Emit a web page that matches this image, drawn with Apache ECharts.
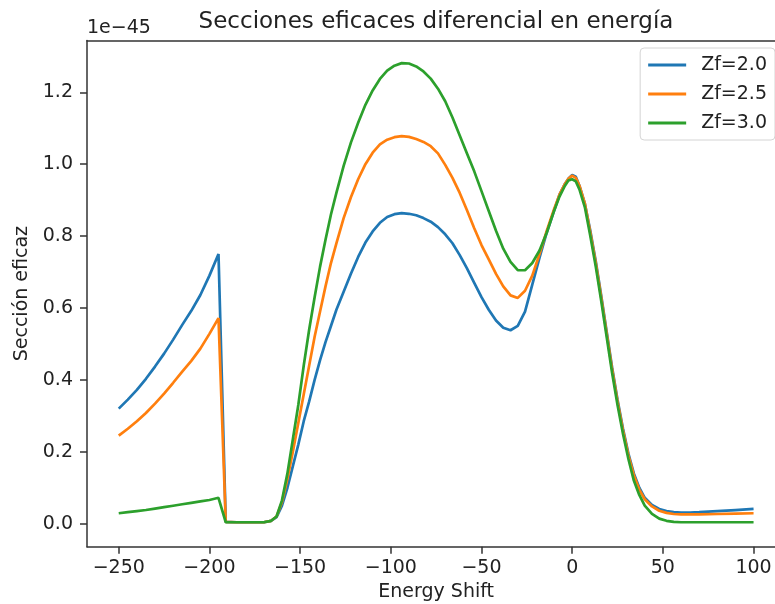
<!DOCTYPE html>
<html>
<head>
<meta charset="utf-8">
<script src="https://cdn.jsdelivr.net/npm/echarts@6/dist/echarts.min.js"></script>
<style>
  html, body { margin: 0; padding: 0; background: #fff; }
  #chart { width: 775px; height: 604px; }
</style>
</head>
<body>
<div id="chart"></div>
<script>
// energy shift samples
var xs = [-250, -245, -240, -235, -230, -225, -220, -215, -210, -205, -200, -195, -191,
  -185, -180, -175, -170, -166, -163, -160, -157, -154, -151, -148, -145, -142, -139,
  -136, -133, -130, -126, -122, -118, -114, -110, -106, -102, -98, -94, -90, -86, -82,
  -78, -74, -70, -66, -62, -58, -54, -50, -46, -42, -38, -34, -30, -26, -22, -18, -14,
  -10, -7, -4, -2, 0, 2, 4, 7, 10, 13, 16, 19, 22, 25, 28, 31, 34, 37, 40, 44, 48, 52,
  56, 60, 65, 70, 80, 90, 100];

// seccion eficaz, en unidades de 1e-45
var zf20 = [0.32, 0.345, 0.372, 0.403, 0.437, 0.473, 0.512, 0.553, 0.592, 0.636, 0.69, 0.75, 0.005,
  0.004, 0.004, 0.004, 0.004, 0.008, 0.018, 0.05, 0.1, 0.16, 0.22, 0.285, 0.34, 0.40, 0.455,
  0.505, 0.55, 0.595, 0.645, 0.695, 0.742, 0.782, 0.813, 0.837, 0.853, 0.861, 0.864, 0.862, 0.858, 0.85,
  0.84, 0.825, 0.805, 0.78, 0.747, 0.71, 0.67, 0.63, 0.595, 0.565, 0.545, 0.538, 0.55, 0.59, 0.665, 0.74, 0.81,
  0.87, 0.915, 0.945, 0.96, 0.97, 0.965, 0.94, 0.89, 0.815, 0.73, 0.635, 0.535, 0.435, 0.345, 0.265, 0.195, 0.14, 0.1, 0.072, 0.052, 0.041, 0.035,
  0.032, 0.031, 0.031, 0.032, 0.035, 0.038, 0.041];

var zf25 = [0.245, 0.264, 0.285, 0.308, 0.334, 0.362, 0.392, 0.423, 0.453, 0.487, 0.528, 0.572, 0.005,
  0.004, 0.004, 0.004, 0.004, 0.008, 0.02, 0.06, 0.125, 0.2, 0.28, 0.36, 0.44, 0.52, 0.59,
  0.66, 0.725, 0.78, 0.85, 0.908, 0.958, 1.0, 1.032, 1.055, 1.068, 1.075, 1.078, 1.076, 1.07, 1.062,
  1.05, 1.03, 0.998, 0.962, 0.92, 0.872, 0.822, 0.775, 0.735, 0.695, 0.66, 0.635, 0.628, 0.648, 0.69, 0.75, 0.815,
  0.875, 0.915, 0.945, 0.96, 0.968, 0.962, 0.94, 0.89, 0.81, 0.725, 0.63, 0.53, 0.43, 0.34, 0.26, 0.19, 0.135, 0.095, 0.068, 0.048, 0.036, 0.03,
  0.027, 0.026, 0.026, 0.026, 0.027, 0.028, 0.029];

var zf30 = [0.029, 0.032, 0.035, 0.038, 0.042, 0.046, 0.050, 0.054, 0.058, 0.062, 0.066, 0.072, 0.004,
  0.004, 0.004, 0.004, 0.004, 0.008, 0.02, 0.065, 0.14, 0.235, 0.33, 0.44, 0.54, 0.63, 0.715,
  0.79, 0.86, 0.92, 0.995, 1.06, 1.115, 1.165, 1.205, 1.237, 1.26, 1.274, 1.281, 1.28, 1.272, 1.258,
  1.238, 1.21, 1.175, 1.13, 1.08, 1.03, 0.98, 0.925, 0.87, 0.815, 0.765, 0.728, 0.705, 0.705, 0.725, 0.76, 0.81,
  0.87, 0.91, 0.94, 0.955, 0.958, 0.952, 0.93, 0.88, 0.80, 0.715, 0.62, 0.52, 0.42, 0.33, 0.25, 0.18, 0.12, 0.08, 0.05, 0.027, 0.014, 0.008,
  0.005, 0.004, 0.004, 0.004, 0.004, 0.004, 0.004];

var seriesNames = ["Zf=2.0", "Zf=2.5", "Zf=3.0"];
var xTicks = [-250, -200, -150, -100, -50, 0, 50, 100];
var yTicks = [0.0, 0.2, 0.4, 0.6, 0.8, 1.0, 1.2];

function pairs(ys) {
  return xs.map(function (x, i) { return [x, ys[i]]; });
}

var font = "DejaVu Sans";
var textColor = "#222";
var spineColor = "#333";
var xMin = -267.5, xMax = 117.5;

var chart = echarts.init(document.getElementById("chart"));
var option = {
  animation: false,
  color: ["#1f77b4", "#ff7f0e", "#2ca02c"],
  textStyle: { fontFamily: font },
  graphic: [
    {
      type: "text",
      x: 436,
      y: 22,
      style: {
        text: "Secciones eficaces diferencial en energía",
        font: "23px " + font,
        fill: textColor,
        align: "center",
        verticalAlign: "middle"
      }
    },
    {
      type: "text",
      x: 87,
      y: 28,
      style: {
        text: "1e\u221245",
        font: "19px " + font,
        fill: textColor,
        align: "left",
        verticalAlign: "middle"
      }
    }
  ],
  legend: {
    orient: "vertical",
    right: 0,
    top: 48,
    padding: [7, 8, 7, 8],
    itemGap: 9,
    itemWidth: 38,
    itemHeight: 3,
    icon: "rect",
    borderColor: "#d4d4d4",
    borderWidth: 1,
    borderRadius: 4,
    backgroundColor: "rgba(255,255,255,0.85)",
    textStyle: { fontSize: 19, fontFamily: font, color: textColor, lineHeight: 20, padding: [0, 0, 0, 10] },
    data: seriesNames
  },
  grid: {
    left: 87,
    top: 40.5,
    bottom: 57.3,
    right: -10.3,
    outerBoundsMode: "none",
    containLabel: false
  },
  xAxis: [
    {
      type: "value",
      min: xMin,
      max: xMax,
      name: "Energy Shift",
      nameLocation: "middle",
      nameGap: 36,
      nameTextStyle: { fontSize: 19, fontFamily: font, color: textColor },
      splitLine: { show: false },
      axisLine: { show: true, onZero: false, lineStyle: { color: spineColor, width: 1.5 } },
      axisTick: { show: true, length: 7, lineStyle: { color: spineColor, width: 1.5 }, customValues: xTicks },
      axisLabel: {
        fontSize: 19,
        fontFamily: font,
        color: textColor,
        margin: 12,
        customValues: xTicks,
        formatter: function (v) { return v < 0 ? "\u2212" + Math.abs(v) : String(v); }
      }
    },
    {
      // top spine
      type: "value",
      position: "top",
      min: xMin,
      max: xMax,
      splitLine: { show: false },
      axisLine: { show: true, onZero: false, lineStyle: { color: spineColor, width: 1.5 } },
      axisTick: { show: false },
      axisLabel: { show: false }
    }
  ],
  yAxis: {
    type: "value",
    min: -0.064,
    max: 1.344,
    name: "Sección eficaz",
    nameLocation: "middle",
    nameGap: 55,
    nameRotate: 90,
    nameTextStyle: { fontSize: 19, fontFamily: font, color: textColor },
    splitLine: { show: false },
    axisLine: { show: true, onZero: false, lineStyle: { color: spineColor, width: 1.5 } },
    axisTick: { show: true, length: 7, lineStyle: { color: spineColor, width: 1.5 }, customValues: yTicks },
    axisLabel: {
      fontSize: 19,
      fontFamily: font,
      color: textColor,
      margin: 14,
      customValues: yTicks,
      formatter: function (v) { return v.toFixed(1); }
    }
  },
  series: [
    { name: seriesNames[0], type: "line", data: pairs(zf20), showSymbol: false, lineStyle: { width: 2.7 } },
    { name: seriesNames[1], type: "line", data: pairs(zf25), showSymbol: false, lineStyle: { width: 2.7 } },
    { name: seriesNames[2], type: "line", data: pairs(zf30), showSymbol: false, lineStyle: { width: 2.7 } }
  ]
};
chart.setOption(option);
window.addEventListener("resize", function () {
  chart.resize();
});
</script>
</body>
</html>
